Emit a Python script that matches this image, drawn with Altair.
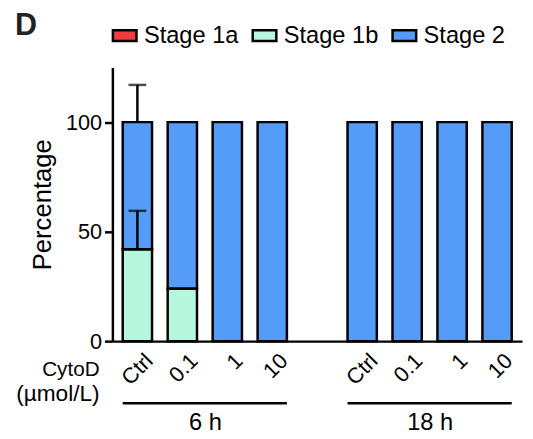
import altair as alt
import pandas as pd

# ---- data ----
categories = ["6 h|Ctrl", "6 h|0.1", "6 h|1", "6 h|10", "gap",
              "18 h|Ctrl", "18 h|0.1", "18 h|1", "18 h|10"]
conditions = ["6 h|Ctrl", "6 h|0.1", "6 h|1", "6 h|10",
              "18 h|Ctrl", "18 h|0.1", "18 h|1", "18 h|10"]
stages = ["Stage 1a", "Stage 1b", "Stage 2"]
stage_1a = [0, 0, 0, 0, 0, 0, 0, 0]
stage_1b = [42, 24, 0, 0, 0, 0, 0, 0]
stage_2 = [58, 76, 100, 100, 100, 100, 100, 100]
sd_1a = [0, 0, 0, 0, 0, 0, 0, 0]
sd_1b = [17.5, 0, 0, 0, 0, 0, 0, 0]
sd_2 = [17, 0, 0, 0, 0, 0, 0, 0]
colors = ["#F23B3B", "#B6F6DE", "#559CF8"]
groups = ["6 h", "18 h"]
group_start = ["6 h|Ctrl", "18 h|Ctrl"]
group_mid = ["6 h|0.1", "18 h|0.1"]
group_end = ["6 h|10", "18 h|10"]

FONT = "Liberation Sans"

rows = []
for i, cond in enumerate(conditions):
    cum = 0
    for st, vals, sds in zip(stages, [stage_1a, stage_1b, stage_2], [sd_1a, sd_1b, sd_2]):
        v = vals[i]
        rows.append({"cat": cond, "stage": st, "lo": cum, "hi": cum + v,
                     "value": v, "sd": sds[i], "top": cum + v + sds[i]})
        cum += v
df = pd.DataFrame(rows)
bar_df = df[df["value"] > 0]
err_df = df[df["sd"] > 0]
grp_df = pd.DataFrame({"group": groups, "start": group_start,
                       "mid": group_mid, "end": group_end})

xscale = alt.Scale(domain=categories, paddingInner=0.348, paddingOuter=0.23)
yscale = alt.Scale(domain=[0, 125], nice=False)
YT = "Percentage"

bars = alt.Chart(bar_df).mark_bar(stroke="black", strokeWidth=2.5, strokeJoin="miter").encode(
    x=alt.X("cat:N", scale=xscale, title=None,
            axis=alt.Axis(labelExpr="indexof(datum.label, '|') > 0 ? split(datum.label, '|')[1] : ''",
                          labelAngle=-45, labelAlign="right", labelBaseline="top",
                          labelFontSize=22, labelFont=FONT, labelColor="black",
                          labelPadding=9, labelOffset=5, ticks=False, domainColor="black",
                          domainWidth=2.5, grid=False)),
    y=alt.Y("lo:Q", scale=yscale, title=YT,
            axis=alt.Axis(values=[0, 50, 100], tickSize=8, tickWidth=2.5, tickColor="black",
                          domainColor="black", domainWidth=2.5, labelFontSize=22,
                          labelFont=FONT, labelColor="black", labelPadding=3,
                          titleFontSize=26, titleFont=FONT,
                          titleFontWeight="normal", titleColor="black", titlePadding=10,
                          grid=False)),
    y2="hi:Q",
    color=alt.Color("stage:N", scale=alt.Scale(domain=stages, range=colors),
                    legend=alt.Legend(orient="none", legendX=-1, legendY=-46,
                                      direction="horizontal", title=None,
                                      symbolType="M-1,-0.46H1V0.46H-1Z", symbolSize=576,
                                      symbolStrokeColor="black", symbolStrokeWidth=2.5,
                                      symbolOpacity=1, labelFontSize=24, labelFont=FONT,
                                      labelColor="black", labelOffset=6,
                                      columnPadding=8, padding=0)),
)

err_rule = alt.Chart(err_df).mark_rule(color="black", strokeWidth=2.5).encode(
    x=alt.X("cat:N", scale=xscale, title=None),
    y=alt.Y("hi:Q", scale=yscale, title=YT),
    y2="top:Q",
)
err_cap = alt.Chart(err_df).mark_tick(color="black", thickness=2.5, size=18, orient="horizontal").encode(
    x=alt.X("cat:N", scale=xscale, title=None),
    y=alt.Y("top:Q", scale=yscale, title=YT),
)

grp_rule = alt.Chart(grp_df).mark_rule(color="black", strokeWidth=2.5).encode(
    x=alt.X("start:N", scale=xscale, title=None, bandPosition=0),
    x2=alt.X2("end:N", bandPosition=1),
    y=alt.value(341),
)
grp_text = alt.Chart(grp_df).mark_text(font=FONT, fontSize=24, color="black", dx=8.5,
                                       align="center", baseline="alphabetic").encode(
    x=alt.X("mid:N", scale=xscale, title=None, bandPosition=1),
    y=alt.value(368),
    text="group:N",
)

lab_df = pd.DataFrame({"t": ["CytoD"]})
lab1 = alt.Chart(lab_df).mark_text(font=FONT, fontSize=21, color="black", align="right",
                                   baseline="alphabetic").encode(
    x=alt.value(-13), y=alt.value(313), text=alt.value("CytoD"))
lab2 = alt.Chart(lab_df).mark_text(font=FONT, fontSize=23, color="black", align="right",
                                   baseline="alphabetic").encode(
    x=alt.value(-13), y=alt.value(339), text=alt.value("(µmol/L)"))
panel = alt.Chart(lab_df).mark_text(font=FONT, fontSize=31, fontWeight="bold", color="#222",
                                    align="left", baseline="alphabetic").encode(
    x=alt.value(-99), y=alt.value(-33), text=alt.value("D"))

chart = alt.layer(bars, err_rule, err_cap, grp_rule, grp_text, lab1, lab2, panel).properties(
    width=416, height=278,
    autosize=alt.AutoSizeParams(type="none"),
    padding={"left": 106, "top": 57, "right": 3, "bottom": 92},
).configure_view(stroke=None)

chart.save("out.html", embed_options={"renderer": "svg", "actions": False})
